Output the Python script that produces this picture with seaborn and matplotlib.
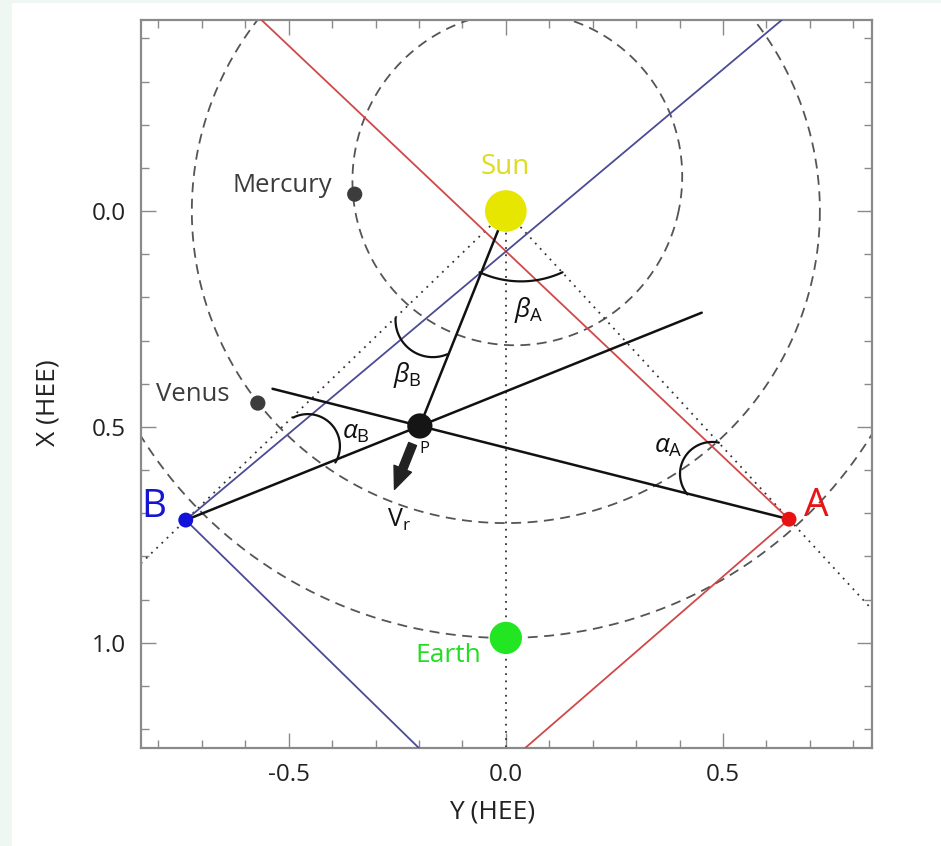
import numpy as np
import pandas as pd
import matplotlib
matplotlib.use("Agg")
import matplotlib.pyplot as plt
from matplotlib.ticker import MultipleLocator, FixedLocator
from matplotlib.patches import FancyArrowPatch, Rectangle
import seaborn as sns

# ---------------- data (HEE coordinates, AU) ----------------
body_names = ["Sun", "Mercury", "Venus", "Earth", "B", "A", "P"]
body_Y = [0.0, -0.348, -0.571, 0.0, -0.737, 0.652, -0.198]
body_X = [0.0, -0.039, 0.445, 0.989, 0.716, 0.714, 0.498]

venus_orbit_r = 0.723
earth_orbit_r = 0.989
mercury_a = 0.387
mercury_e = 0.2056
mercury_peri_deg = 109.4          # direction of perihelion (atan2(X, Y))

hi_elongations = [4.0, 88.7]      # inner / outer edges of HI field of view (deg)
los_extension = [0.35, 0.70]      # extension of A->P and B->P lines beyond P (AU)
vr_range = [0.045, 0.158]         # arrow start / tip distance from P (AU)

# angle arcs: centre Y, centre X, radius, start deg, end deg
arc_names = ["alphaA", "alphaB", "betaA", "betaB"]
arc_cY = [0.475, -0.456, 0.035, -0.168]
arc_cX = [0.609, 0.5445, -0.063, 0.2525]
arc_r = [0.074, 0.074, 0.226, 0.086]
arc_a0 = [140.0, -117.0, 65.0, 67.0]
arc_a1 = [282.0, 31.0, 115.0, 183.0]

tick_vals = [-0.5, 0.0, 0.5]
ytick_vals = [0.0, 0.5, 1.0]

# ---------------- style ----------------
sns.set_theme(style="white")
plt.rcParams["font.family"] = ["Open Sans", "DejaVu Sans"]
plt.rcParams["mathtext.fontset"] = "custom"
plt.rcParams["mathtext.rm"] = "Open Sans"
plt.rcParams["mathtext.it"] = "Open Sans:italic"

fig = plt.figure(figsize=(9.41, 8.46), dpi=100)
fig.patch.set_facecolor("#eef7f1")
fig.add_artist(Rectangle((12 / 941, 0), 1, 843 / 846, transform=fig.transFigure,
                         facecolor="white", edgecolor="none", zorder=-10))
ax = fig.add_axes([141 / 941, 1 - 748 / 846, 731 / 941, 728 / 846])
ax.set_facecolor("white")

df = pd.DataFrame({"name": body_names, "Y": body_Y, "X": body_X})
pos = {n: np.array([y, x]) for n, y, x in zip(body_names, body_Y, body_X)}
sun, A, B, P = pos["Sun"], pos["A"], pos["B"], pos["P"]

# ---------------- orbits ----------------
th = np.linspace(0, 2 * np.pi, 721)
dash_kw = dict(color="#555555", lw=1.3, dashes=(5.5, 3.6), zorder=2)
ax.plot(venus_orbit_r * np.cos(th), venus_orbit_r * np.sin(th), **dash_kw)
ax.plot(earth_orbit_r * np.cos(th), earth_orbit_r * np.sin(th), **dash_kw)
p = mercury_a * (1 - mercury_e ** 2)
w = np.radians(mercury_peri_deg)
rm = p / (1 + mercury_e * np.cos(th - w))
ax.plot(rm * np.cos(th), rm * np.sin(th), **dash_kw)

# ---------------- dotted Sun lines ----------------
dot_kw = dict(color="#333333", lw=1.3, linestyle=(0, (1, 3)), zorder=2)
for tgt in (A, B):
    d = tgt - sun
    d = d / np.linalg.norm(d)
    far = sun + 3 * d
    ax.plot([sun[0], far[0]], [sun[1], far[1]], **dot_kw)
ax.plot([0, 0], [0, 3], **dot_kw)

# ---------------- HI field-of-view edges ----------------
def ray(origin, ang_deg, color):
    t = np.radians(ang_deg)
    ax.plot([origin[0], origin[0] + 4 * np.cos(t)],
            [origin[1], origin[1] + 4 * np.sin(t)], color=color, lw=1.3, zorder=3)

angA = np.degrees(np.arctan2(-A[1], -A[0]))
angB = np.degrees(np.arctan2(-B[1], -B[0]))
for el in hi_elongations:
    ray(A, angA - el, "#d04848")
    ray(B, angB + el, "#4b4b96")

# ---------------- lines of sight through P ----------------
for sc, ext in zip((A, B), los_extension):
    d = P - sc
    d = d / np.linalg.norm(d)
    end = P + ext * d
    ax.plot([sc[0], end[0]], [sc[1], end[1]], color="#111111", lw=1.8, zorder=4)
ax.plot([sun[0], P[0]], [sun[1], P[1]], color="#111111", lw=1.8, zorder=4)

# radial velocity arrow
dr = (P - sun) / np.linalg.norm(P - sun)
a_start = P + vr_range[0] * dr
a_end = P + vr_range[1] * dr
ax.add_patch(FancyArrowPatch(tuple(a_start), tuple(a_end),
                             arrowstyle="simple,head_length=1.6,head_width=1.35,tail_width=0.6",
                             mutation_scale=10, shrinkA=0, shrinkB=0,
                             color="#222222", zorder=6))

# ---------------- angle arcs ----------------
for cy, cx, r, a0, a1 in zip(arc_cY, arc_cX, arc_r, arc_a0, arc_a1):
    t = np.radians(np.linspace(a0, a1, 80))
    ax.plot(cy + r * np.cos(t), cx + r * np.sin(t), color="#111111", lw=1.6, zorder=4)

# ---------------- bodies ----------------
palette = {"Sun": "#e6e600", "Mercury": "#3c3c3c", "Venus": "#3c3c3c", "Earth": "#22e622",
           "B": "#1212d8", "A": "#e81212", "P": "#151515"}
sizes = {"Sun": 900, "Mercury": 120, "Venus": 120, "Earth": 540,
         "B": 115, "A": 115, "P": 330}
sns.scatterplot(data=df, x="Y", y="X", hue="name", palette=palette, size="name",
                sizes=sizes, legend=False, edgecolor="none", linewidth=0, ax=ax, zorder=8)

# ---------------- labels ----------------
tk = dict(ha="center", va="center", zorder=9)
ax.text(-0.002, -0.102, "Sun", color="#dcdc22", fontsize=20, **tk)
ax.text(-0.399, -0.058, "Mercury", color="#3c3c3c", fontsize=18.5, ha="right", va="center", zorder=9)
ax.text(-0.636, 0.426, "Venus", color="#3c3c3c", fontsize=18.5, ha="right", va="center", zorder=9)
ax.text(-0.058, 1.029, "Earth", color="#22dd22", fontsize=19, ha="right", va="center", zorder=9)
ax.text(-0.811, 0.686, "B", color="#1515d0", fontsize=28, **tk)
ax.text(0.714, 0.684, "A", color="#e81515", fontsize=28, **tk)
ax.text(-0.187, 0.551, "P", color="#111111", fontsize=12, **tk)
ax.text(-0.247, 0.716, r"V$_{\rm r}$", color="#111111", fontsize=18, **tk)
ax.text(-0.346, 0.512, r"$\alpha_{\rm B}$", color="#111111", fontsize=19, **tk)
ax.text(-0.226, 0.380, r"$\beta_{\rm B}$", color="#111111", fontsize=19, **tk)
ax.text(0.053, 0.229, r"$\beta_{\rm A}$", color="#111111", fontsize=19, **tk)
ax.text(0.373, 0.545, r"$\alpha_{\rm A}$", color="#111111", fontsize=19, **tk)

# ---------------- axes ----------------
ax.set_xlim(-0.840, 0.843)
ax.set_ylim(1.244, -0.4425)
ax.xaxis.set_major_locator(FixedLocator(tick_vals))
ax.yaxis.set_major_locator(FixedLocator(ytick_vals))
ax.set_xticklabels([f"{v:.1f}" for v in tick_vals])
ax.set_yticklabels([f"{v:.1f}" for v in ytick_vals])
ax.xaxis.set_minor_locator(MultipleLocator(0.1))
ax.yaxis.set_minor_locator(MultipleLocator(0.1))
ax.tick_params(which="both", direction="in", top=True, right=True, bottom=True, left=True,
               color="#8a8a8a", labelcolor="#222222", labelsize=17.5, width=1.0)
ax.tick_params(which="major", length=11, pad=11)
ax.tick_params(which="minor", length=6)
for s in ax.spines.values():
    s.set_color("#8a8a8a")
    s.set_linewidth(1.6)
    s.set_visible(True)

ax.set_xlabel("Y (HEE)", fontsize=19, color="#222222")
ax.set_ylabel("X (HEE)", fontsize=19, color="#222222")
ax.xaxis.set_label_coords(0.48, -0.088)
ax.xaxis.label.set_verticalalignment("center")
ax.yaxis.set_label_coords(-0.127, 0.475)
ax.yaxis.label.set_verticalalignment("center")

fig.savefig("out.png", dpi=100, facecolor=fig.get_facecolor())
